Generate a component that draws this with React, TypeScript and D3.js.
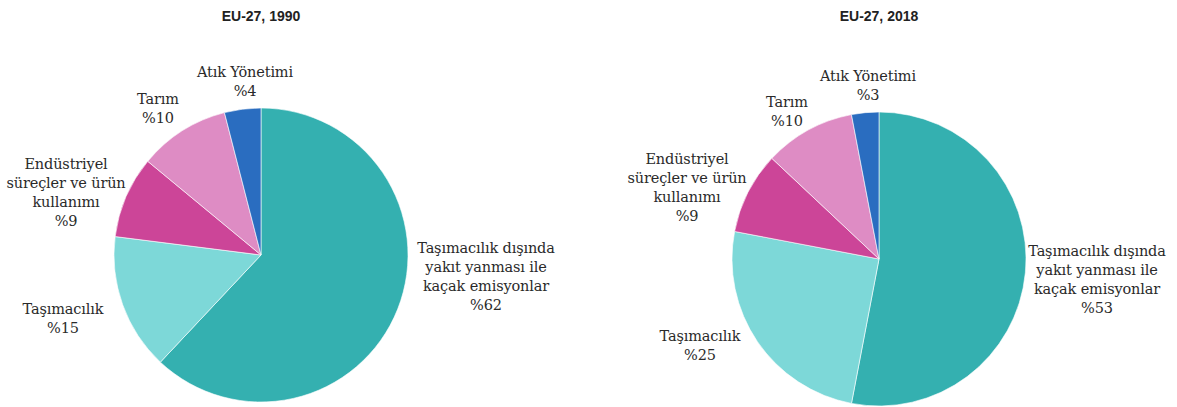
import React from "react";
import * as d3 from "d3";

const categories = [
  "Taşımacılık dışında yakıt yanması ile kaçak emisyonlar",
  "Taşımacılık",
  "Endüstriyel süreçler ve ürün kullanımı",
  "Tarım",
  "Atık Yönetimi",
];
const labelLines = [
  ["Taşımacılık dışında", "yakıt yanması ile", "kaçak emisyonlar"],
  ["Taşımacılık"],
  ["Endüstriyel", "süreçler ve ürün", "kullanımı"],
  ["Tarım"],
  ["Atık Yönetimi"],
];
const values1990 = [62, 15, 9, 10, 4];
const values2018 = [53, 25, 9, 10, 3];
const titles = ["EU-27, 1990", "EU-27, 2018"];
const colors = ["#34b0b0", "#7dd8d8", "#cc4598", "#de8cc4", "#2a6dc0"];

// layout (label anchor = x centre, y of first line's middle)
const pies = [
  {
    values: values1990,
    title: titles[0],
    cx: 261,
    cy: 255,
    labels: [
      [486, 249],
      [63, 310],
      [66, 165],
      [158, 100],
      [245, 73],
    ],
  },
  {
    values: values2018,
    title: titles[1],
    cx: 879,
    cy: 259,
    labels: [
      [1097, 252],
      [700, 337],
      [687, 160],
      [787, 103],
      [868, 77],
    ],
  },
];

const R = 147;
const LH = 19;
const serif = "DejaVu Serif";

export default function App() {
  const pie = d3.pie<number>().sort(null).value((d) => d);
  const arc = d3.arc<d3.PieArcDatum<number>>().innerRadius(0).outerRadius(R);
  return (
    <svg
      width={1177}
      height={407}
      style={{ position: "absolute", left: 0, top: 0, background: "#fff" }}
    >
      {pies.map((p, pi) => {
        const arcs = pie(p.values);
        return (
          <g key={pi}>
            <text
              x={p.cx}
              y={17}
              textAnchor="middle"
              dominantBaseline="middle"
              fontFamily="Liberation Sans"
              fontWeight="bold"
              fontSize={14}
              fill="#222"
            >
              {p.title}
            </text>
            <g transform={`translate(${p.cx},${p.cy})`}>
              {arcs.map((a, i) => (
                <path
                  key={i}
                  d={arc(a) || ""}
                  fill={colors[i]}
                  stroke="#ffffff"
                  strokeWidth={0.6}
                />
              ))}
            </g>
            {categories.map((c, i) => {
              const [lx, ly] = p.labels[i];
              const lines = [...labelLines[i], "%" + p.values[i]];
              return (
                <text
                  key={c}
                  textAnchor="middle"
                  fontFamily={serif}
                  fontSize={14.5}
                  letterSpacing={-0.15}
                  fill="#2a2a2a"
                >
                  {lines.map((l, j) => (
                    <tspan
                      key={j}
                      x={lx}
                      y={ly + j * LH}
                      dominantBaseline="middle"
                    >
                      {l}
                    </tspan>
                  ))}
                </text>
              );
            })}
          </g>
        );
      })}
    </svg>
  );
}
